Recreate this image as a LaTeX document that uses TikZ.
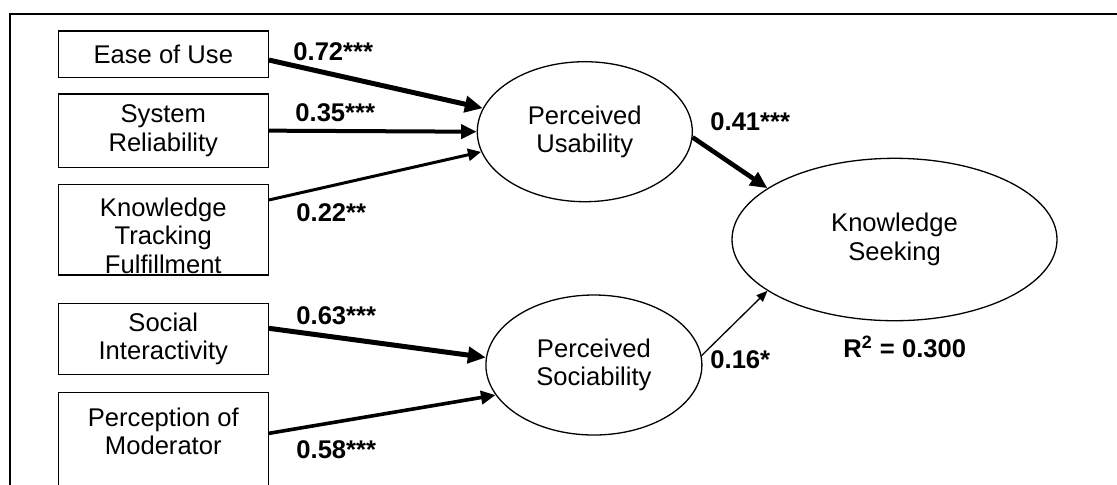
\documentclass[tikz,border=0pt]{standalone}
\usepackage{fontspec}
\setmainfont{Liberation Sans}
\usetikzlibrary{arrows.meta,shapes.geometric}

\tikzset{
  factor/.style={draw, line width=0.7pt, rectangle, inner sep=0pt,
    minimum width=105pt, align=center, font=\fontsize{12.8}{14.15}\selectfont},
  boxtext/.style={inner sep=0pt, align=center, font=\fontsize{12.8}{14.15}\selectfont},
  latent/.style={draw, line width=0.65pt, ellipse, inner sep=0pt,
    align=center, font=\fontsize{12.8}{14.15}\selectfont},
  coef/.style={inner sep=0pt, anchor=base west,
    font=\bfseries\fontsize{12.8}{14.15}\selectfont},
  effect/.style={line width=#1, -{Triangle[length=3pt 2.4, width=3pt 2]}},
  weak/.style={line width=0.65pt, -{Triangle[length=5.5pt, width=4.5pt]}}
}

\begin{document}
\begin{tikzpicture}[x=0.5pt, y=-0.5pt]

    % Page area and the outer frame (cut off right and below)
    \useasboundingbox (0,0) rectangle (1117,484);
    \clip (0,0) rectangle (1117,484);
    \draw[line width=1pt] (9.5,520) -- (9.5,14) -- (1140,14);

    % Observed factors on the left
    \node[factor, minimum height=23.25pt] (ease) at (163.3,54.25) {Ease of Use};
    \node[factor, minimum height=36.65pt] (sysrel) at (163.3,130.65) {System\\Reliability};
    \node[boxtext] (ktftext) at (163.3,235.6) {Knowledge\\Tracking\\Fulfillment};
    \node[factor, minimum height=45.35pt] (ktf) at (163.3,229.65) {};
    \node[factor, minimum height=35.5pt] (social) at (163.3,338.8) {Social\\Interactivity};
    \node[boxtext] (perctext) at (163.3,431.5) {Perception of\\Moderator};
    \node[factor, minimum height=50pt] (perception) at (163.3,442.3) {};

    % Latent constructs
    \node[latent, minimum width=107.5pt, minimum height=70pt] (pu) at (584.8,131.7) {Perceived\\Usability};
    \node[latent, minimum width=108pt, minimum height=70pt] (ps) at (593.9,365) {Perceived\\Sociability};
    \node[latent, minimum width=162.5pt, minimum height=81.2pt] (ks) at (894.5,239.5) {Knowledge\\Seeking};

    % Paths into Perceived Usability
    \draw[effect=2.5pt] ([yshift=-2.9pt]ease.east) -- (pu.167);
    \draw[effect=2pt] (sysrel.east) -- (pu.180);
    \draw[effect=1.5pt] ([yshift=14.85pt]ktf.east) -- (pu.191);

    % Paths into Perceived Sociability
    \draw[effect=2.5pt] ([yshift=5.25pt]social.east) -- (ps.176);
    \draw[effect=1.8pt] ([yshift=4.5pt]perception.east) -- (ps.197);

    % Paths into Knowledge Seeking
    \draw[effect=2.3pt] (pu.-3) -- (ks.158);
    \draw[weak] (ps.5) -- (ks.202);

    % Path coefficients
    \node[coef] (c72) at (293,60) {0.72***};
    \node[coef] (c35) at (295,121.7) {0.35***};
    \node[coef] (c22) at (296,221.7) {0.22**};
    \node[coef] (c63) at (296,324.3) {0.63***};
    \node[coef] (c58) at (296,458.3) {0.58***};
    \node[coef] (c41) at (710,130.7) {0.41***};
    \node[coef] (c16) at (710,368) {0.16*};

    % Explained variance
    \node[coef] (rsq) at (843,357) {R\textsuperscript{2} = 0.300};

\end{tikzpicture}
\end{document}
